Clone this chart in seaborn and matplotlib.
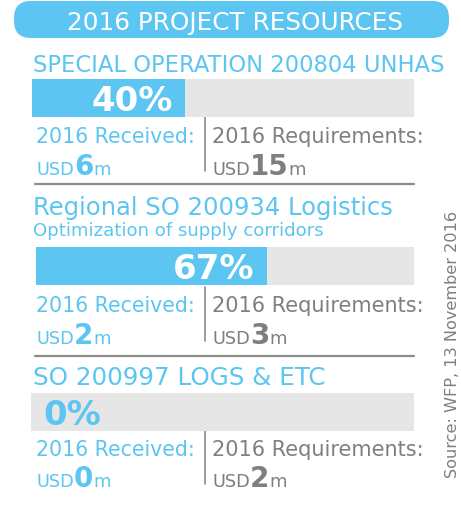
import pandas as pd
import matplotlib.pyplot as plt
import seaborn as sns
from matplotlib.patches import FancyBboxPatch
from matplotlib.transforms import offset_copy

sns.set_theme(style="white")
plt.rcParams['font.family'] = ['DejaVu Sans']

# values
header = "2016 PROJECT RESOURCES"
titles = ["SPECIAL OPERATION 200804 UNHAS", "Regional SO 200934 Logistics", "SO 200997 LOGS & ETC"]
subtitles = ["", "Optimization of supply corridors", ""]
pct_labels = ["40%", "67%", "0%"]
funded = [40, 61, 0]      # length of the blue fill as drawn
received = [6, 2, 0]      # USD m
required = [15, 3, 2]     # USD m
source = "Source: WFP, 13 November 2016"

BLUE = "#5CC5F1"
GRAY_BAR = "#E6E6E6"
GRAY_TXT = "#7F7F7F"
GRAY_LINE = "#8C8C8C"

W, H = 461, 506
fig = plt.figure(figsize=(W / 100, H / 100), dpi=100)
ax = fig.add_axes([0, 0, 1, 1])
ax.set_xlim(0, W)
ax.set_ylim(H, 0)
ax.axis('off')
rend = fig.canvas.get_renderer()


def run_text(x, y, parts):
    # write pieces of text one after another on one baseline
    for s, size, weight, color in parts:
        t = ax.text(x, y, s, fontsize=size, fontweight=weight, color=color,
                    ha='left', va='baseline')
        bb = t.get_window_extent(renderer=rend)
        x = ax.transData.inverted().transform((bb.x1, 0))[0]


# header pill
ax.add_patch(FancyBboxPatch((14, 2), 435, 37, boxstyle="round,pad=0,rounding_size=17",
                            fc=BLUE, ec='none'))
ax.text(235, 29.5, header, fontsize=17.8, color='white', ha='center', va='baseline')

# layout per section
title_y = [72, 215, 385]
title_size = [16.3, 17.5, 17.7]
sub_y = [None, 236.5, None]
bar_box = [(32, 414, 80, 118), (36, 414, 248, 286), (31, 414, 394, 432)]
text_y = [(143, 174.5), (312, 344), (456, 487)]
div_y = [(118, 172), (288, 342), (430, 485)]
rule_y = [184.5, 357]

for i in range(3):
    ax.text(33, title_y[i], titles[i], fontsize=title_size[i], color=BLUE, ha='left', va='baseline')
    if subtitles[i]:
        ax.text(33, sub_y[i], subtitles[i], fontsize=13.1, color=BLUE, ha='left', va='baseline')

    x0, x1, y0, y1 = bar_box[i]
    bax = fig.add_axes([x0 / W, 1 - y1 / H, (x1 - x0) / W, (y1 - y0) / H])
    df = pd.DataFrame({'row': ['a'], 'full': [100], 'funded': [funded[i]]})
    sns.barplot(data=df, x='full', y='row', orient='h', color=GRAY_BAR, saturation=1,
                width=1, linewidth=0, ax=bax)
    sns.barplot(data=df, x='funded', y='row', orient='h', color=BLUE, saturation=1,
                width=1, linewidth=0, ax=bax)
    bax.set_xlim(0, 100)
    bax.set_ylim(0.5, -0.5)
    bax.axis('off')

    # percentage label at the end of the fill
    if funded[i] > 0:
        tr = offset_copy(bax.transData, fig=fig, x=-12, y=-12, units='dots')
        bax.text(funded[i], 0, pct_labels[i], transform=tr, fontsize=24.5, fontweight='bold',
                 color='white', ha='right', va='baseline')
    else:
        tr = offset_copy(bax.transData, fig=fig, x=12, y=-12, units='dots')
        bax.text(0, 0, pct_labels[i], transform=tr, fontsize=24.5, fontweight='bold',
                 color=BLUE, ha='left', va='baseline')

    # received / required
    ya, yb = text_y[i]
    ax.text(36, ya, "2016 Received:", fontsize=14.8, color=BLUE, ha='left', va='baseline')
    run_text(36, yb, [("USD", 12.8, 'normal', BLUE), (str(received[i]), 20, 'bold', BLUE),
                      ("m", 13, 'normal', BLUE)])
    ax.text(212, ya, "2016 Requirements:", fontsize=15, color=GRAY_TXT, ha='left', va='baseline')
    run_text(212, yb, [("USD", 12.8, 'normal', GRAY_TXT), (str(required[i]), 20, 'bold', GRAY_TXT),
                       ("m", 13, 'normal', GRAY_TXT)])
    ax.plot([205, 205], div_y[i], color=GRAY_LINE, lw=1.2)

for y in rule_y:
    ax.plot([35, 414], [y, y], color=GRAY_LINE, lw=1.6)

# source, rotated
ax.text(452, 478, source, fontsize=11.6, color=GRAY_TXT, rotation=90, ha='center', va='bottom')

fig.savefig('out.png', dpi=100)
